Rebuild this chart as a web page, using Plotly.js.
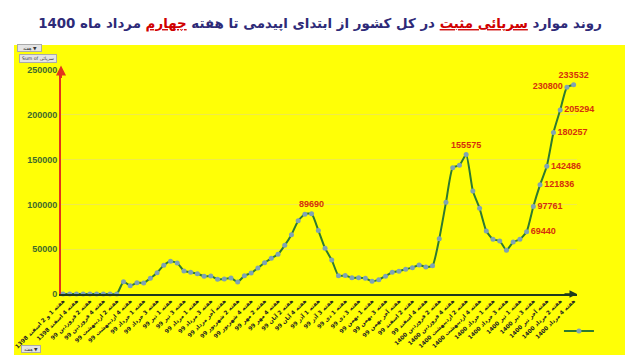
<!DOCTYPE html>
<html>
<head>
<meta charset="utf-8">
<script src="https://cdn.plot.ly/plotly-3.0.1.min.js"></script>
<style>html,body{margin:0;padding:0;background:#fff;}#chart{width:640px;height:360px;}</style>
</head>
<body>
<div id="chart"></div>
<script>
// Categories (weeks)
var weeks = [
 "هفته 1 و 2 اسفند 1398","هفته 3 اسفند 1398","هفته 4 اسفند 1398",
 "هفته 1 فروردین 99","هفته 2 فروردین 99","هفته 3 فروردین 99","هفته 4 فروردین 99",
 "هفته 1 اردیبهشت 99","هفته 2 اردیبهشت 99","هفته 3 اردیبهشت 99","هفته 4 اردیبهشت 99","هفته آخر اردیبهشت 99",
 "هفته 1 خرداد 99","هفته 2 خرداد 99","هفته 3 خرداد 99","هفته 4 خرداد 99",
 "هفته 1 تیر 99","هفته 2 تیر 99","هفته 3 تیر 99","هفته 4 تیر 99",
 "هفته 1 مرداد 99","هفته 2 مرداد 99","هفته 3 مرداد 99","هفته 4 مرداد 99","هفته آخر مرداد 99",
 "هفته 1 شهریور 99","هفته 2 شهریور 99","هفته 3 شهریور 99","هفته 4 شهریور 99",
 "هفته 1 مهر 99","هفته 2 مهر 99","هفته 3 مهر 99","هفته 4 مهر 99",
 "هفته 1 آبان 99","هفته 2 آبان 99","هفته 3 آبان 99","هفته 4 آبان 99","هفته آخر آبان 99",
 "هفته 1 آذر 99","هفته 2 آذر 99","هفته 3 آذر 99","هفته 4 آذر 99",
 "هفته 1 دی 99","هفته 2 دی 99","هفته 3 دی 99","هفته 4 دی 99",
 "هفته 1 بهمن 99","هفته 2 بهمن 99","هفته 3 بهمن 99","هفته 4 بهمن 99","هفته آخر بهمن 99",
 "هفته 1 اسفند 99","هفته 2 اسفند 99","هفته 3 اسفند 99","هفته 4 اسفند 99",
 "هفته 1 فروردین 1400","هفته 2 فروردین 1400","هفته 3 فروردین 1400","هفته 4 فروردین 1400",
 "هفته 1 اردیبهشت 1400","هفته 2 اردیبهشت 1400","هفته 3 اردیبهشت 1400","هفته 4 اردیبهشت 1400","هفته آخر اردیبهشت 1400",
 "هفته 1 خرداد 1400","هفته 2 خرداد 1400","هفته 3 خرداد 1400","هفته 4 خرداد 1400",
 "هفته 1 تیر 1400","هفته 2 تیر 1400","هفته 3 تیر 1400","هفته 4 تیر 1400","هفته آخر تیر 1400",
 "هفته 1 مرداد 1400","هفته 2 مرداد 1400","هفته 3 مرداد 1400","هفته 4 مرداد 1400"
];
// Positive outpatient cases per week
var cases = [
 0,0,0,0,0,0,0,0,0,
 13700,9300,12600,12300,17500,23800,32000,36500,34600,25700,
 24200,22700,19700,20100,16400,16700,17900,13400,20400,23400,
 29000,34900,39800,44300,54300,66200,81800,89100,89690,71000,
 51000,37900,20400,20700,18000,18200,17500,14100,16000,19900,
 24300,25500,27700,29400,32500,30100,31600,61700,102300,141000,
 143600,155575,115000,95600,70300,61000,59200,48800,58000,61000,
 69440,97761,121836,142486,180257,205294,230800,233532
];
// Values that carry a data label
var labelled = [89690,155575,69440,97761,121836,142486,180257,205294,230800,233532];
var yTicks = [0,50000,100000,150000,200000,250000];

var shownTicks = weeks.filter(function(w,i){return i%2===0;});
var textArr = cases.map(function(v){return labelled.indexOf(v)>=0 ? String(v) : "";});
var rightSide = [69440,97761,121836,142486,180257,205294];
var posArr = cases.map(function(v){
  if (rightSide.indexOf(v)>=0) return "middle right";
  if (v===230800) return "middle left";
  return "top center";
});

var FA = "DejaVu Sans, Liberation Sans, sans-serif";

var trace = {
  type: "scatter", mode: "lines+markers+text",
  x: weeks, y: cases, name: " ",
  line: {color: "#2e7a30", width: 2, shape: "spline", smoothing: 0.5},
  marker: {color: "#7fa3b4", size: 5, symbol: "circle"},
  text: textArr, textposition: posArr,
  textfont: {family: "Liberation Sans, Arial, sans-serif", size: 9, color: "#d4300c", weight: "bold"},
  cliponaxis: false, showlegend: true
};

var title = '<span style="color:#2e2a78">روند موارد </span>' +
  '<span style="color:#d00000"><u>سرپائی مثبت</u></span>' +
  '<span style="color:#2e2a78"> در کل کشور از ابتدای اپیدمی تا هفته </span>' +
  '<span style="color:#d00000"><u>چهارم</u></span>' +
  '<span style="color:#2e2a78"> مرداد ماه 1400</span>';

var btn = {family: FA, size: 4.6, color: "#333"};

var layout = {
  width: 640, height: 360,
  margin: {l: 61, r: 63, t: 70, b: 66, autoexpand: false},
  paper_bgcolor: "#ffffff",
  plot_bgcolor: "rgba(0,0,0,0)",
  title: {text: "<b>" + title + "</b>", x: 0.5, xanchor: "center", y: 0.935, yanchor: "middle", yref: "container",
          font: {family: FA, size: 13.4, color: "#2e2a78"}},
  xaxis: {
    type: "category", range: [-0.3, 76.5], automargin: false,
    tickmode: "array", tickvals: shownTicks, ticktext: shownTicks,
    tickangle: -45, tickfont: {family: FA, size: 5.6, color: "#222222", weight: "bold"},
    showgrid: false, zeroline: false, showline: true, linecolor: "#1e3a1e", linewidth: 1.5, ticks: ""
  },
  yaxis: {
    range: [0, 250000], automargin: false, tickmode: "array", tickvals: yTicks,
    ticktext: yTicks.map(String),
    tickfont: {family: "Liberation Sans, Arial, sans-serif", size: 9, color: "#3d6b2c", weight: "bold"},
    showgrid: true, gridcolor: "#efeb4a", gridwidth: 1, zeroline: false,
    showline: true, linecolor: "#e2341c", linewidth: 2, ticks: ""
  },
  shapes: [{type: "rect", xref: "paper", yref: "paper", x0: -0.0911, x1: 1.093, y0: -0.272, y1: 1.1116,
            fillcolor: "#ffff06", line: {width: 0}, layer: "below"}],
  annotations: [
    {xref: "paper", yref: "paper", x: 0, y: 1.02, ax: 0, ay: 14, text: "", showarrow: true,
     arrowhead: 2, arrowsize: 1, arrowwidth: 2, arrowcolor: "#e2341c"},
    {xref: "paper", yref: "paper", x: 1.0, y: 0, ax: -14, ay: 0, text: "", showarrow: true,
     arrowhead: 2, arrowsize: 1, arrowwidth: 1.5, arrowcolor: "#1e3a1e"},
    {xref: "paper", yref: "paper", x: -0.0853, xanchor: "left", y: 1.098, yanchor: "middle", text: "   هفته ▼   ", showarrow: false,
     font: btn, bgcolor: "#e4e4e4", bordercolor: "#aaaaaa", borderwidth: 1, borderpad: 0.5},
    {xref: "paper", yref: "paper", x: -0.0814, xanchor: "left", y: 1.05, yanchor: "middle", text: " Sum of سرپائی ", showarrow: false,
     font: btn, bgcolor: "#e4e4e4", bordercolor: "#aaaaaa", borderwidth: 1, borderpad: 0.5},
    {xref: "paper", yref: "paper", x: -0.0775, xanchor: "left", y: -0.245, yanchor: "middle", text: " هفته ▼ ", showarrow: false,
     font: btn, bgcolor: "#e4e4e4", bordercolor: "#aaaaaa", borderwidth: 1, borderpad: 0.5}
  ],
  showlegend: true,
  legend: {x: 0.965, y: -0.165, xanchor: "left", yanchor: "middle", bgcolor: "rgba(0,0,0,0)",
           font: {size: 5}, itemwidth: 30, tracegroupgap: 0}
};

Plotly.newPlot("chart", [trace], layout, {displayModeBar: false, staticPlot: true});
</script>
</body>
</html>
